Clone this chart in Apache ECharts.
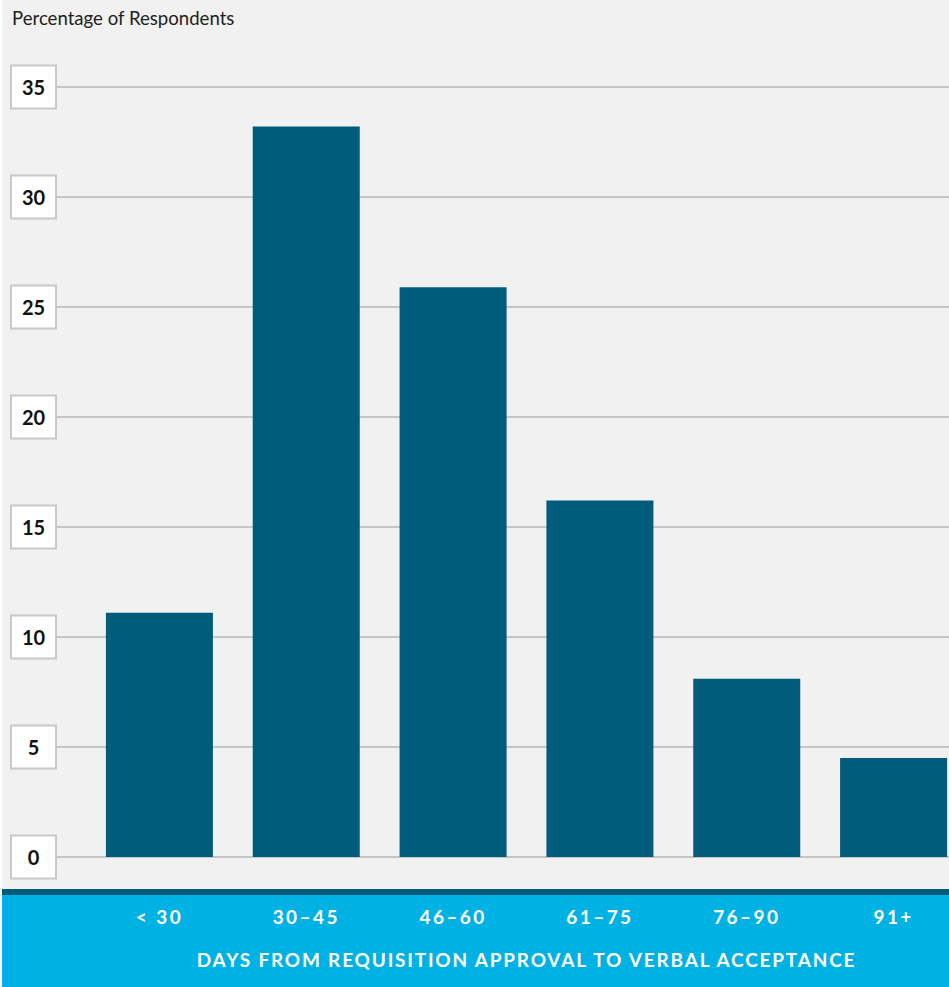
<!DOCTYPE html>
<html>
<head>
<meta charset="utf-8">
<script src="https://cdn.jsdelivr.net/npm/echarts@6/dist/echarts.min.js"></script>
<style>
  html, body { margin: 0; padding: 0; background: #fff; }
  #chart { width: 949px; height: 987px; }
</style>
</head>
<body>
<div id="chart"></div>
<script>
const categories = ['< 30', '30\u201345', '46\u201360', '61\u201375', '76\u201390', '91+'];
const percentValues = [11.1, 33.2, 25.9, 16.2, 8.1, 4.5];
const yTicks = [0, 5, 10, 15, 20, 25, 30, 35];

const chart = echarts.init(document.getElementById('chart'), null, { renderer: 'svg' });

const plotTop = 87;
const plotHeight = 770;

chart.setOption({
  animation: false,
  textStyle: { fontFamily: 'Lato' },
  graphic: [
    { type: 'rect', z: -10, silent: true, shape: { x: 2, y: 0, width: 947, height: 889 }, style: { fill: '#f0f1f0' } },
    { type: 'rect', z: -10, silent: true, shape: { x: 2, y: 889, width: 947, height: 6 }, style: { fill: '#005b78' } },
    { type: 'rect', z: -10, silent: true, shape: { x: 2, y: 895, width: 947, height: 92 }, style: { fill: '#00b1e4' } },
    {
      type: 'text', left: 12, top: 8,
      style: { text: 'Percentage of Respondents', fill: '#222', font: '18.6px Lato' }
    }
  ],
  grid: [
    { left: 56, right: 0, top: plotTop, height: plotHeight },
    // bar grid runs past the right edge so the last bar sits flush with it
    { left: 86, width: 881, top: plotTop, height: plotHeight, outerBoundsMode: 'none' }
  ],
  xAxis: [
    { gridIndex: 0, type: 'value', show: false },
    {
      gridIndex: 1,
      type: 'category',
      data: categories,
      axisLine: { show: false },
      axisTick: { show: false },
      axisLabel: {
        color: '#fff',
        fontSize: 19,
        fontWeight: 'bold',
        margin: 50
      },
      name: 'DAYS FROM REQUISITION APPROVAL TO VERBAL ACCEPTANCE',
      nameLocation: 'middle',
      nameGap: 93,
      nameTextStyle: { color: '#fff', fontSize: 19, fontWeight: 'bold' }
    }
  ],
  yAxis: [
    {
      gridIndex: 0,
      type: 'value',
      min: 0,
      max: 35,
      interval: 5,
      axisLine: { show: false },
      axisTick: { show: false },
      splitLine: { lineStyle: { color: '#c4c5c4', width: 2 } },
      axisLabel: {
        margin: 1,
        formatter: v => yTicks.includes(v) ? '{b|' + v + '}' : '',
        rich: {
          b: {
            width: 43,
            height: 41,
            align: 'center',
            verticalAlign: 'middle',
            backgroundColor: '#fff',
            borderColor: '#c8c8c8',
            borderWidth: 2,
            color: '#111',
            fontSize: 20,
            fontWeight: 'bold',
            fontFamily: 'Lato'
          }
        }
      }
    },
    { gridIndex: 1, type: 'value', min: 0, max: 35, show: false }
  ],
  series: [
    {
      type: 'bar',
      xAxisIndex: 1,
      yAxisIndex: 1,
      data: percentValues,
      barWidth: 107,
      itemStyle: { color: '#005c7a' }
    }
  ]
});

// spaced-out white caps in the footer band
document.querySelectorAll('#chart text').forEach(t => {
  const fill = (t.getAttribute('fill') || t.style.fill || '').toLowerCase();
  if (fill === '#fff' || fill === '#ffffff' || fill.indexOf('255, 255, 255') >= 0 || fill.indexOf('255,255,255') >= 0) {
    t.style.letterSpacing = t.textContent.length > 10 ? '1.8px' : '2.4px';
  }
});
</script>
</body>
</html>
